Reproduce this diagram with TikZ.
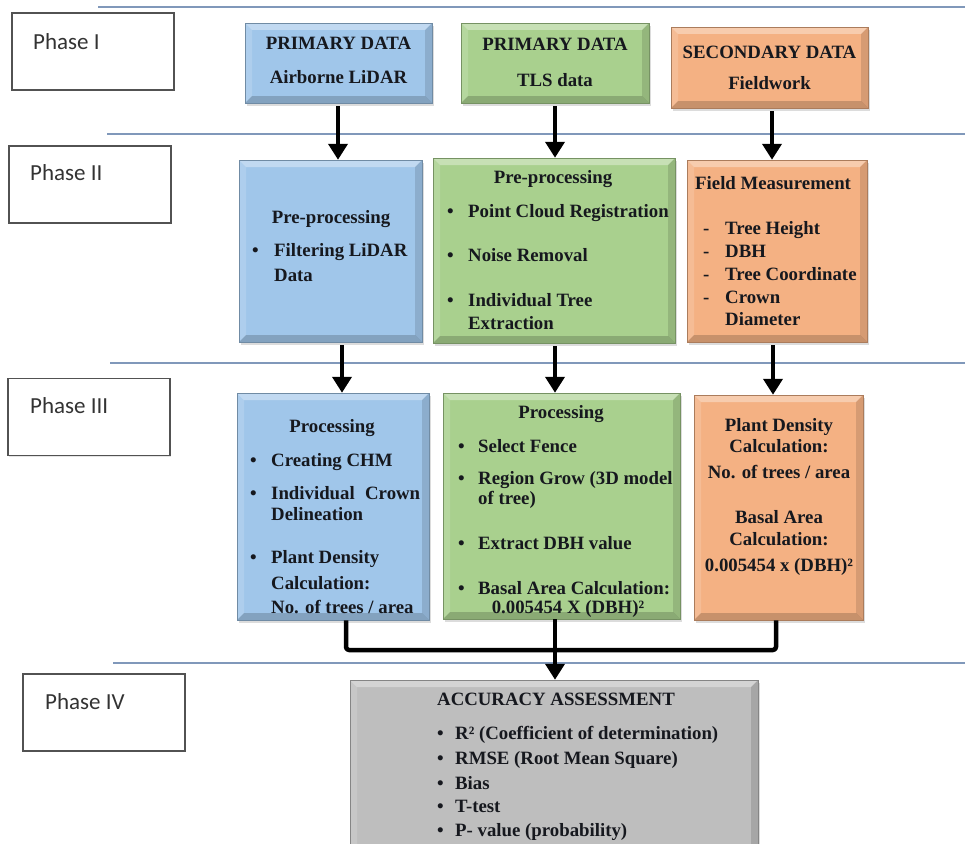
\documentclass[tikz,border=0pt]{standalone}
\usepackage{fontspec}
\setmainfont{Liberation Serif}
\newfontfamily\phasefont{Carlito}
\usetikzlibrary{shadows,arrows.meta}
\definecolor{cblue}{RGB}{160,198,234}
\definecolor{cgreen}{RGB}{169,208,142}
\definecolor{corange}{RGB}{244,177,131}
\definecolor{cgray}{RGB}{190,190,190}
\definecolor{sepcol}{RGB}{128,152,186}
\definecolor{txtcol}{RGB}{22,24,30}
\newcommand\mybody{\fontsize{18.8}{22}\selectfont\bfseries}
\tikzset{
  sep/.style={draw=sepcol, line width=1.6pt},
  phasebox/.style={draw=black!68, line width=1.4pt, fill=white, minimum width=162pt, minimum height=77pt, inner sep=0pt,
    drop shadow={shadow xshift=1pt, shadow yshift=-1pt, opacity=.25, fill=black!40}},
  phtxt/.style={font=\phasefont\fontsize{23}{27}\selectfont, text=black!80, inner sep=0pt, anchor=base west},
  colbox/.style={fill=#1, draw=#1!70!black, line width=0.5pt, inner sep=0pt,
    drop shadow={shadow xshift=2pt, shadow yshift=-3pt, opacity=.3, fill=black!45},
    path picture={
      \fill[white,opacity=.35] (path picture bounding box.north west) -- (path picture bounding box.north east)
        -- ([shift={(-7pt,-7pt)}]path picture bounding box.north east) -- ([shift={(7pt,-7pt)}]path picture bounding box.north west) -- cycle;
      \fill[white,opacity=.15] (path picture bounding box.north west) -- ([shift={(7pt,-7pt)}]path picture bounding box.north west)
        -- ([shift={(7pt,7pt)}]path picture bounding box.south west) -- (path picture bounding box.south west) -- cycle;
      \fill[black,opacity=.12] (path picture bounding box.north east) -- ([shift={(-7pt,-7pt)}]path picture bounding box.north east)
        -- ([shift={(-7pt,7pt)}]path picture bounding box.south east) -- (path picture bounding box.south east) -- cycle;
      \fill[black,opacity=.18] (path picture bounding box.south west) -- ([shift={(7pt,7pt)}]path picture bounding box.south west)
        -- ([shift={(-7pt,7pt)}]path picture bounding box.south east) -- (path picture bounding box.south east) -- cycle;
    }},
  lt/.style={font=\mybody, text=txtcol, inner sep=0pt, anchor=base west},
  ct/.style={font=\mybody, text=txtcol, inner sep=0pt, anchor=base},
  arr/.style={draw=black, line width=4.5pt, -{Triangle[length=16pt,width=19pt]}, shorten <=3pt},
  conn/.style={draw=black, line width=4.5pt, rounded corners=3pt, line join=round}
}
\begin{document}
\begin{tikzpicture}[x=1pt,y=-1pt]
\useasboundingbox (0,0) rectangle (965,843);
\clip (0,0) rectangle (965,843);
% phase separators
\draw[sep] (98,7) -- (965,7);
\draw[sep] (107,134) -- (965,134);
\draw[sep] (110,363) -- (965,363);
\draw[sep] (113,663) -- (965,663);
% phase label boxes
\node[phasebox] (p1) at (93,51.5) {};
\node[phtxt] (p1t) at (33,49) {Phase I};
\node[phasebox] (p2) at (90,184.5) {};
\node[phtxt] (p2t) at (30,180) {Phase II};
\node[phasebox] (p3) at (89,417) {};
\node[phtxt] (p3t) at (30,413) {Phase III};
\node[phasebox] (p4) at (104,712.5) {};
\node[phtxt] (p4t) at (45,709) {Phase IV};
% Phase I boxes
\node[colbox=cblue, minimum width=187pt, minimum height=80pt] (b1) at (338.5,63) {};
\node[ct] (b1a) at (338.5,49) {PRIMARY DATA};
\node[ct] (b1b) at (338.5,83) {Airborne LiDAR};
\node[colbox=cgreen, minimum width=188pt, minimum height=80pt] (g1) at (555,63) {};
\node[ct] (g1a) at (555,51) {PRIMARY DATA};
\node[ct] (g1b) at (555,86) {TLS data};
\node[colbox=corange, minimum width=197pt, minimum height=81pt] (o1) at (769.5,67.5) {};
\node[ct] (o1a) at (769.5,59) {SECONDARY DATA};
\node[ct] (o1b) at (769.5,89) {Fieldwork};
% Phase II boxes
\node[colbox=cblue, minimum width=183pt, minimum height=182pt] (b2) at (330.5,251) {};
\node[ct] (b2h) at (331,223) {Pre-processing};
\node[lt] (b2u1) at (252,256) {•};
\node[lt] (b2l1) at (274,256) {Filtering LiDAR};
\node[lt] (b2l2) at (274,281) {Data};
\node[colbox=cgreen, minimum width=242pt, minimum height=185pt] (g2) at (554,250.5) {};
\node[ct] (g2h) at (553,183) {Pre-processing};
\node[lt] (g2u1) at (447,217) {•};
\node[lt] (g2l1) at (468,217) {Point Cloud Registration};
\node[lt] (g2u2) at (447,261) {•};
\node[lt] (g2l2) at (468,261) {Noise Removal};
\node[lt] (g2u3) at (447,306) {•};
\node[lt] (g2l3) at (468,306) {Individual Tree};
\node[lt] (g2l4) at (468,329) {Extraction};
\node[colbox=corange, minimum width=180pt, minimum height=182pt] (o2) at (777,251) {};
\node[lt] (o2h) at (695,189) {Field Measurement};
\node[lt] (o2d1) at (703,234) {-};
\node[lt] (o2l1) at (725,234) {Tree Height};
\node[lt] (o2d2) at (703,257) {-};
\node[lt] (o2l2) at (725,257) {DBH};
\node[lt] (o2d3) at (703,280) {-};
\node[lt] (o2l3) at (725,280) {Tree Coordinate};
\node[lt] (o2d4) at (703,303) {-};
\node[lt] (o2l4) at (725,303) {Crown};
\node[lt] (o2l5) at (725,325) {Diameter};
% Phase III boxes
\node[colbox=cblue, minimum width=192pt, minimum height=227pt] (b3) at (333,506.5) {};
\node[ct] (b3h) at (332,432) {Processing};
\node[lt] (b3u1) at (250,466) {•};
\node[lt] (b3l1) at (271,466) {Creating CHM};
\node[lt] (b3u2) at (250,499) {•};
\node[lt] (b3l2) at (271,499) {\makebox[149pt][s]{Individual Crown}};
\node[lt] (b3l3) at (271,520) {Delineation};
\node[lt] (b3u3) at (250,563) {•};
\node[lt] (b3l4) at (271,563) {Plant Density};
\node[lt] (b3l5) at (271,589) {Calculation:};
\node[lt] (b3l6) at (271,613) {No. of trees / area};
\node[colbox=cgreen, minimum width=237pt, minimum height=226pt] (g3) at (561.5,506) {};
\node[ct] (g3h) at (561,418) {Processing};
\node[lt] (g3u1) at (458,452) {•};
\node[lt] (g3l1) at (478,452) {Select Fence};
\node[lt] (g3u2) at (458,484) {•};
\node[lt] (g3l2) at (478,484) {Region Grow (3D model};
\node[lt] (g3l3) at (478,504) {of tree)};
\node[lt] (g3u3) at (458,549) {•};
\node[lt] (g3l4) at (478,549) {Extract DBH value};
\node[lt] (g3u4) at (458,594) {•};
\node[lt] (g3l5) at (478,594) {Basal Area Calculation:};
\node[ct] (g3l6) at (568,613) {0.005454 X (DBH)²};
\node[colbox=corange, minimum width=169pt, minimum height=225pt] (o3) at (778.5,507.5) {};
\node[ct] (o3l1) at (779,431) {Plant Density};
\node[ct] (o3l2) at (779,452) {Calculation:};
\node[ct] (o3l3) at (779,478) {No. of trees / area};
\node[ct] (o3l4) at (779,523) {Basal Area};
\node[ct] (o3l5) at (779,545) {Calculation:};
\node[ct] (o3l6) at (779,571) {0.005454 x (DBH)²};
% Phase IV box
\node[colbox=cgray, minimum width=408pt, minimum height=190pt] (acc) at (554,775) {};
\node[ct] (acch) at (556,705) {ACCURACY ASSESSMENT};
\node[lt] (accu1) at (437,739) {•};
\node[lt] (accl1) at (455,739) {R² (Coefficient of determination)};
\node[lt] (accu2) at (437,764) {•};
\node[lt] (accl2) at (455,764) {RMSE (Root Mean Square)};
\node[lt] (accu3) at (437,789) {•};
\node[lt] (accl3) at (455,789) {Bias};
\node[lt] (accu4) at (437,812) {•};
\node[lt] (accl4) at (455,812) {T-test};
\node[lt] (accu5) at (437,836) {•};
\node[lt] (accl5) at (455,836) {P- value (probability)};
% arrow columns
\coordinate (xa1) at (338,0);
\coordinate (xa2) at (555,0);
\coordinate (xa3) at (772,0);
\coordinate (xb1) at (342,0);
\coordinate (xb3) at (773,0);
\coordinate (mL) at (346,650);
\coordinate (mC) at (555,650);
\coordinate (mR) at (776,650);
% Phase I -> II
\draw[arr] (b1.south -| xa1) -- (b2.north -| xa1);
\draw[arr] (g1.south -| xa2) -- (g2.north -| xa2);
\draw[arr] (o1.south -| xa3) -- (o2.north -| xa3);
% Phase II -> III
\draw[arr] (b2.south -| xb1) -- (b3.north -| xb1);
\draw[arr] (g2.south -| xa2) -- (g3.north -| xa2);
\draw[arr] (o2.south -| xb3) -- (o3.north -| xb3);
% Phase III -> IV
\draw[conn] (b3.south -| mL) -- (mL) -- (mR) -- (o3.south -| mR);
\draw[conn] (g3.south -| mC) -- (mC);
\draw[arr, shorten <=0pt] (mC) -- (acc.north -| mC);
\end{tikzpicture}
\end{document}
